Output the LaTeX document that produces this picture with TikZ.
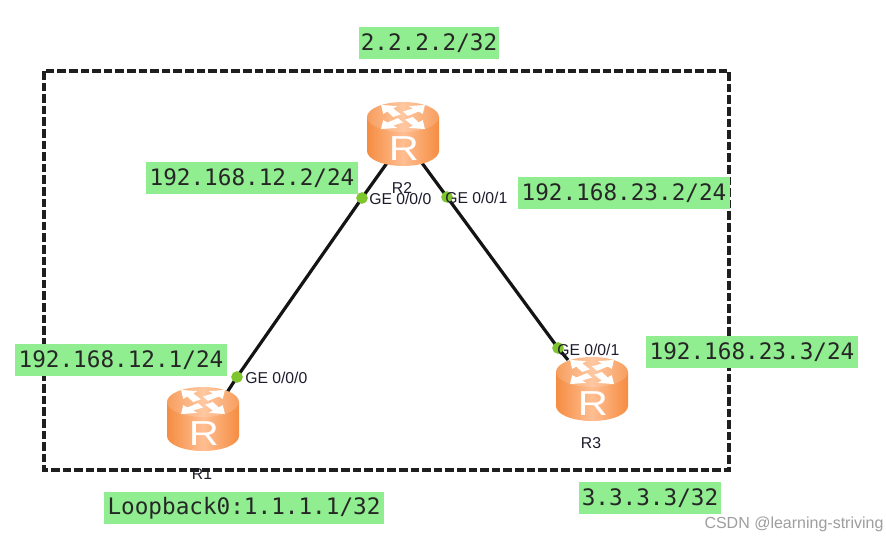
\documentclass[tikz,border=0pt]{standalone}
\usepackage{fontspec}
\setmainfont{Liberation Sans}
\newfontfamily\labelfont{DejaVu Sans Mono}
\definecolor{labelgreen}{HTML}{90EE90}
\definecolor{portgreen}{HTML}{7FC62E}
\definecolor{routeredge}{HTML}{F58D42}
\definecolor{routermid}{HTML}{FFBE92}
\definecolor{routertop}{HTML}{FFC8A2}
\definecolor{inktext}{HTML}{1C1C2C}
\tikzset{
    router/.pic={
        \shade[left color=routeredge, right color=routeredge, middle color=routermid]
            (-36,15) -- (-36,49) arc[start angle=180, end angle=0, x radius=36, y radius=15] -- (36,15) -- cycle;
        \shade[left color=routeredge!85!white, right color=routeredge!85!white, middle color=routertop]
            (0,15) ellipse[x radius=36, y radius=15];
        \foreach \a in {45,135,225,315} {
            \fill[white, shift={(0,15)}, yscale=0.55, rotate=\a]
                (7,-7) -- (18,-4) -- (18,-10) -- (31,0) -- (18,10) -- (18,4) -- (5,2) -- cycle;
        }
        \node[text=white, xscale=1.2, font=\fontsize{26}{26}\selectfont] (-R) at (1,47) {R};
    }
}
\begin{document}
\begin{tikzpicture}[x=0.75pt, y=-0.75pt,
        addr/.style={fill=labelgreen, inner sep=0pt, minimum height=24pt, text=black!85,
            font=\labelfont\fontsize{17}{20}\selectfont},
        port/.style={circle, fill=portgreen, inner sep=0pt, minimum size=8.5pt},
        iface/.style={anchor=west, inner sep=0pt, text=inktext, font=\fontsize{11.8}{14}\selectfont},
        rname/.style={inner sep=0pt, text=inktext, font=\fontsize{11.8}{14}\selectfont},
        link/.style={line width=2.4pt, black!92},
        area/.style={line width=2.3pt, black!88, dash pattern=on 6.5pt off 2.2pt}]
    \useasboundingbox[fill=white] (0,0) rectangle (886,538);
    \draw[area] (44,71) rectangle (729,470);

    \coordinate (r1up) at (226,394);
    \coordinate (r2left) at (387,163);
    \coordinate (r2right) at (422,163);
    \coordinate (r3up) at (568,360);
    \node[port] (p10) at (237,377) {};
    \node[port] (p20) at (362,198) {};
    \node[port] (p21) at (447,197) {};
    \node[port] (p31) at (558,348) {};
    \draw[link] (r1up) -- (p10.center) -- (p20.center) -- (r2left);
    \draw[link] (r2right) -- (p21.center) -- (p31.center) -- (r3up);
    \node[port] (q10) at (p10) {};
    \node[port] (q20) at (p20) {};
    \node[port] (q21) at (p21) {};
    \node[port] (q31) at (p31) {};

    \pic (r1) at (203,387) {router};
    \pic (r2) at (403,102) {router};
    \pic (r3) at (592,357) {router};

    \node[rname] (n1) at (202,474) {R1};
    \node[rname] (n2) at (402,188) {R2};
    \node[rname] (n3) at (591,443) {R3};

    \node[iface] (g10) at (245,378) {GE 0/0/0};
    \node[iface] (g20) at (369,199) {GE 0/0/0};
    \node[iface] (g21) at (445,198) {GE 0/0/1};
    \node[iface] (g31) at (557,350) {GE 0/0/1};

    \node[addr, minimum width=105pt] (a2) at (429,43) {2.2.2.2/32};
    \node[addr, minimum width=159pt] (a12b) at (252,178) {192.168.12.2/24};
    \node[addr, minimum width=159pt] (a23b) at (624,193) {192.168.23.2/24};
    \node[addr, minimum width=159pt] (a23c) at (752,352) {192.168.23.3/24};
    \node[addr, minimum width=159pt] (a12a) at (121,360) {192.168.12.1/24};
    \node[addr, minimum width=210pt] (a1) at (244,508) {Loopback0:1.1.1.1/32};
    \node[addr, minimum width=107pt] (a3) at (650,498) {3.3.3.3/32};

    \node[inner sep=0pt, text=black!38, font=\fontsize{12}{14}\selectfont] (mark) at (794,524) {CSDN @learning-striving};
\end{tikzpicture}
\end{document}
